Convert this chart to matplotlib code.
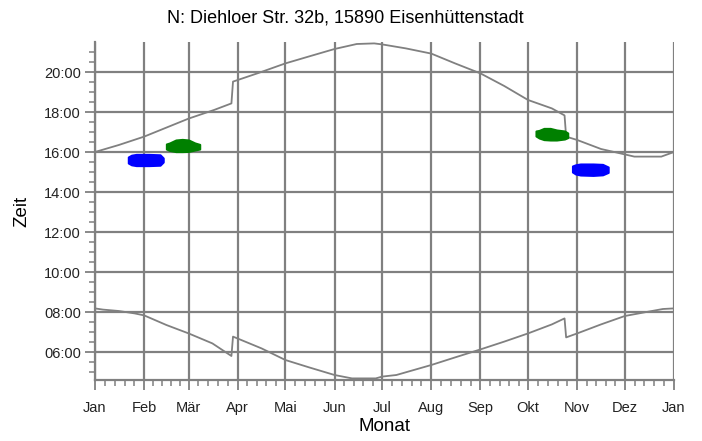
"""Sunrise/sunset curves with shadow periods, Eisenhuettenstadt."""

import matplotlib
matplotlib.use("Agg")
import matplotlib.pyplot as plt
from matplotlib.ticker import FixedLocator, FuncFormatter

plt.rcParams["font.family"] = ["Liberation Sans", "DejaVu Sans"]

GRAY = "#808080"

# month starts (day of year) and labels
month_starts = [0, 31, 59, 90, 120, 151, 181, 212, 243, 273, 304, 334, 365]
month_labels = ["Jan", "Feb", "Mär", "Apr", "Mai", "Jun", "Jul",
                "Aug", "Sep", "Okt", "Nov", "Dez", "Jan"]

# sunset (upper curve), hours
sunset_days = [0, 15, 31, 45, 59, 75, 86, 87, 90, 103, 120, 135, 151, 165, 176,
               181, 196, 212, 227, 243, 258, 273, 288, 296, 297, 304, 319, 329,
               340, 357, 365]
sunset_hours = [16.0, 16.35, 16.77, 17.22, 17.67, 18.1, 18.43, 19.52, 19.6, 19.95,
                20.43, 20.78, 21.15, 21.4, 21.43, 21.38, 21.18, 20.92, 20.43, 19.93,
                19.3, 18.6, 18.18, 17.83, 16.77, 16.6, 16.15, 15.97, 15.77, 15.77,
                16.0]

# sunrise (lower curve), hours
sunrise_days = [0, 5, 15, 25, 31, 45, 59, 74, 86, 87, 105, 120, 135, 151, 162,
                177, 181, 190, 212, 227, 243, 258, 273, 288, 296, 297, 304, 319,
                334, 349, 358, 365]
sunrise_hours = [8.18, 8.12, 8.05, 7.93, 7.83, 7.35, 6.93, 6.43, 5.8, 6.77, 6.18,
                 5.6, 5.23, 4.85, 4.68, 4.68, 4.77, 4.85, 5.35, 5.73, 6.13, 6.52,
                 6.93, 7.38, 7.68, 6.73, 6.93, 7.38, 7.8, 8.02, 8.15, 8.18]

# shadow periods (day, top hour, bottom hour)
blue_feb_days = [21, 23, 26, 34, 41, 43]
blue_feb_top = [15.75, 15.84, 15.88, 15.88, 15.86, 15.7]
blue_feb_bottom = [15.45, 15.36, 15.32, 15.32, 15.34, 15.5]

green_mar_days = [45, 47, 51, 55, 59, 63, 66]
green_mar_top = [16.4, 16.45, 16.6, 16.63, 16.6, 16.45, 16.38]
green_mar_bottom = [16.15, 16.08, 16.02, 16.02, 16.03, 16.1, 16.15]

green_oct_days = [278, 280, 283, 287, 291, 296, 298]
green_oct_top = [17.05, 17.08, 17.18, 17.18, 17.1, 17.05, 16.95]
green_oct_bottom = [16.8, 16.7, 16.62, 16.6, 16.6, 16.65, 16.72]

blue_nov_days = [301, 303, 306, 314, 320, 323.5]
blue_nov_top = [15.3, 15.36, 15.4, 15.4, 15.38, 15.25]
blue_nov_bottom = [15.0, 14.9, 14.85, 14.83, 14.86, 14.98]

fig = plt.figure(figsize=(7.02, 4.41), dpi=100)
ax = fig.add_axes([95 / 702, 1 - 380 / 441, 579 / 702, 338 / 441])

ax.plot(sunset_days, sunset_hours, color=GRAY, linewidth=1.3, zorder=3)
ax.plot(sunrise_days, sunrise_hours, color=GRAY, linewidth=1.3, zorder=3)

blobs = [
    (blue_feb_days, blue_feb_top, blue_feb_bottom, "#0000FF"),
    (green_mar_days, green_mar_top, green_mar_bottom, "#008000"),
    (green_oct_days, green_oct_top, green_oct_bottom, "#008000"),
    (blue_nov_days, blue_nov_top, blue_nov_bottom, "#0000FF"),
]
for days, top, bottom, colour in blobs:
    ax.fill_between(days, bottom, top, color=colour, edgecolor=colour,
                    linewidth=1.5, zorder=4)

ax.set_xlim(0, 365)
ax.set_ylim(4.6, 21.5)

ax.xaxis.set_major_locator(FixedLocator(month_starts))
ax.set_xticklabels(month_labels)
minor_x = []
for a, b in zip(month_starts[:-1], month_starts[1:]):
    minor_x += [a + k * (b - a) / 5 for k in range(1, 5)]
ax.xaxis.set_minor_locator(FixedLocator(minor_x))

ax.yaxis.set_major_locator(FixedLocator(list(range(6, 21, 2))))
ax.yaxis.set_major_formatter(FuncFormatter(lambda v, _: f"{int(v):02d}:00"))
ax.yaxis.set_minor_locator(FixedLocator([v / 2 for v in range(10, 43)]))

ax.grid(True, which="major", color=GRAY, linewidth=1.6, zorder=1)
ax.set_axisbelow(True)

for side in ("top", "right"):
    ax.spines[side].set_visible(False)
for side in ("left", "bottom"):
    ax.spines[side].set_color(GRAY)
    ax.spines[side].set_linewidth(1.6)

ax.tick_params(which="major", length=7, width=1.3, color=GRAY, labelsize=10.5,
               labelcolor="#222222")
ax.tick_params(which="minor", length=4, width=1.1, color=GRAY)
ax.tick_params(axis="x", which="major", pad=8)
ax.tick_params(axis="y", which="major", pad=3)

ax.set_xlabel("Monat", fontsize=13.5, labelpad=2)
ax.set_ylabel("Zeit", fontsize=13.5, labelpad=10)
fig.text(345 / 702, 1 - 18 / 441, "N: Diehloer Str. 32b, 15890 Eisenhüttenstadt",
         ha="center", va="center", fontsize=13)

fig.savefig("out.png", dpi=100)
plt.close(fig)
